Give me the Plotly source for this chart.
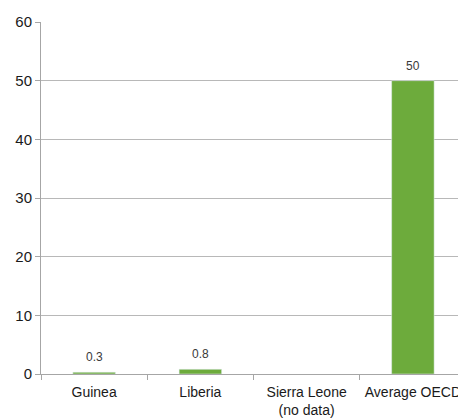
import plotly.graph_objects as go

categories = ["Guinea", "Liberia", "Sierra Leone<br>(no data)", "Average OECD"]
values = [0.3, 0.8, None, 50]
labels = ["0.3", "0.8", "", "50"]
y_ticks = [0, 10, 20, 30, 40, 50, 60]

fig = go.Figure(go.Bar(
    x=categories, y=values,
    marker=dict(color="#6DAB3C"), width=0.4, cliponaxis=False,
))

for c, v, t in zip(categories, values, labels):
    if v is None or not t:
        continue
    fig.add_annotation(
        x=c, y=v, text=t, showarrow=False, yanchor="bottom", yshift=6,
        font=dict(family="Liberation Sans, Arial", size=12, color="#3a3a3a"),
    )

fig.update_layout(
    width=458, height=410,
    margin=dict(l=33, r=0, t=14, b=44),
    paper_bgcolor="white", plot_bgcolor="white",
    showlegend=False,
    font=dict(family="Liberation Sans, Arial", color="#1a1a1a"),
    bargap=0.6,
)
fig.update_yaxes(
    range=[0, 60], tickvals=y_ticks, showgrid=True, gridcolor="#b8b8b8", gridwidth=1,
    showline=True, linecolor="#a6a6a6", linewidth=1,
    ticks="outside", ticklen=5, tickcolor="#a6a6a6",
    tickfont=dict(size=15, color="#1a1a1a"), zeroline=False,
)
fig.update_xaxes(
    showline=True, linecolor="#a6a6a6", linewidth=1,
    ticks="outside", ticklen=5, tickcolor="#a6a6a6", tickson="boundaries",
    tickfont=dict(size=14, color="#1a1a1a"), showgrid=False,
    ticklabelstandoff=5,
)

fig.write_html("out.html")
